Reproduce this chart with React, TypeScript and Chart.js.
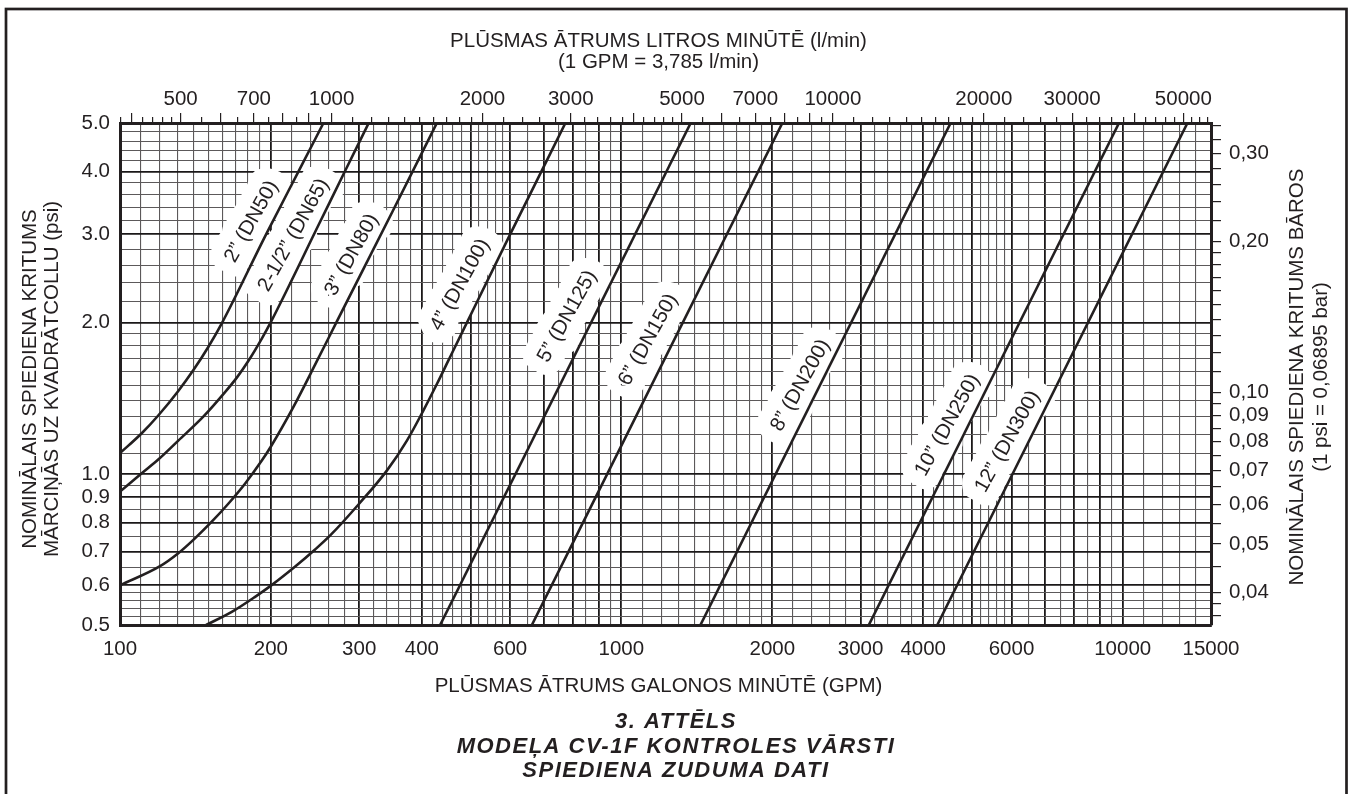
import React, { useEffect, useRef } from 'react';
import { Chart, registerables } from 'chart.js';

Chart.register(...registerables);

const FONT = '"Liberation Sans", Arial, Helvetica, sans-serif';
const INK = '#231f20';

// ---- axis ranges & conversions ----
const FLOW_MIN = 100;
const FLOW_MAX = 15000;
const PSI_MIN = 0.5;
const PSI_MAX = 5.0;
const GPM_TO_LPM = 3.785;
const PSI_TO_BAR = 0.06895;

// ---- grid / tick definitions: [from, to, step] ----
const GPM_GRID_SEGS: [number, number, number][] = [
  [100, 200, 10], [200, 600, 20], [600, 1000, 50], [1000, 2000, 100],
  [2000, 6000, 200], [6000, 10000, 500], [10000, 15000, 1000],
];
const PSI_GRID_SEGS: [number, number, number][] = [
  [0.5, 0.6, 0.02], [0.6, 1.0, 0.05], [1.0, 2.0, 0.1], [2.0, 5.0, 0.2],
];
const LPM_TICK_SEGS: [number, number, number][] = [
  [380, 500, 20], [500, 1000, 50], [1000, 2000, 100], [2000, 5000, 200],
  [5000, 10000, 500], [10000, 20000, 1000], [20000, 56000, 2000],
];
const BAR_TICK_SEGS: [number, number, number][] = [
  [0.036, 0.04, 0.002], [0.04, 0.1, 0.005], [0.1, 0.2, 0.01], [0.2, 0.34, 0.02],
];

// ---- tick labels ----
const GPM_LABELS = [100, 200, 300, 400, 600, 1000, 2000, 3000, 4000, 6000, 10000, 15000];
const PSI_LABELS = [0.5, 0.6, 0.7, 0.8, 0.9, 1.0, 2.0, 3.0, 4.0, 5.0];
const LPM_LABELS = [500, 700, 1000, 2000, 3000, 5000, 7000, 10000, 20000, 30000, 50000];
const BAR_LABELS = [0.04, 0.05, 0.06, 0.07, 0.08, 0.09, 0.1, 0.2, 0.3];

// ---- series (flow in GPM, pressure drop in psi) ----
const SERIES_NAMES = [
  '2” (DN50)', '2-1/2” (DN65)', '3” (DN80)', '4” (DN100)', '5” (DN125)',
  '6” (DN150)', '8” (DN200)', '10” (DN250)', '12” (DN300)',
];
const FLOW_2 = [100, 110.5, 119.2, 130.7, 140.1, 150.1, 159.6, 195.6, 226.9, 254.6];
const PSI_2 = [1.1, 1.205, 1.307, 1.463, 1.61, 1.792, 1.995, 3.0, 4.0, 5.0];
const FLOW_25 = [100, 110.5, 119.2, 130.7, 146.6, 162, 171, 180.4, 191.8, 200, 250, 280, 313.4];
const PSI_25 = [0.922, 1.003, 1.068, 1.165, 1.3, 1.455, 1.555, 1.68, 1.86, 2.008, 3.16, 3.98, 5.0];
const FLOW_3 = [100, 120.2, 130.7, 141.1, 152.4, 164.6, 177.7, 191.8, 200, 221.8, 245, 270.9, 350, 428.6];
const PSI_3 = [0.6, 0.655, 0.695, 0.744, 0.803, 0.873, 0.957, 1.063, 1.134, 1.36, 1.65, 2.015, 3.34, 5.0];
const FLOW_4 = [148.5, 167.1, 186, 200, 223.6, 245, 262.6, 300.8, 340.6, 373.5, 403.2, 428.6, 452.2, 480.8, 600, 773.5];
const PSI_4 = [0.5, 0.531, 0.569, 0.599, 0.654, 0.707, 0.754, 0.875, 1.015, 1.165, 1.34, 1.51, 1.685, 1.91, 3.0, 5.0];
const FLOW_5 = [435, 1375];
const FLOW_6 = [663, 2095];
const FLOW_8 = [1438, 4537];
const FLOW_10 = [3116, 9832];
const FLOW_12 = [4267, 13463];
const PSI_ENDS = [0.5, 5.0];

// ---- label anchors (flow, psi) beside each curve ----
const LABEL_FLOW = [183, 222, 290, 477, 780, 1132, 2277, 4474, 5896];
const LABEL_PSI = [3.18, 2.99, 2.73, 2.38, 2.06, 1.85, 1.5, 1.25, 1.16];

const SERIES_FLOWS = [FLOW_2, FLOW_25, FLOW_3, FLOW_4, FLOW_5, FLOW_6, FLOW_8, FLOW_10, FLOW_12];
const SERIES_PSIS = [PSI_2, PSI_25, PSI_3, PSI_4, PSI_ENDS, PSI_ENDS, PSI_ENDS, PSI_ENDS, PSI_ENDS];

function expand(segs: [number, number, number][]): number[] {
  const out: number[] = [];
  segs.forEach(([a, b, s], k) => {
    const n = Math.round((b - a) / s);
    for (let i = k === 0 ? 0 : 1; i <= n; i++) out.push(+(a + i * s).toFixed(6));
  });
  return out;
}
const inList = (list: number[], v: number) => list.some((x) => Math.abs(x - v) <= Math.abs(x) * 1e-6);
const isWhole = (v: number) => {
  const p = Math.pow(10, Math.floor(Math.log10(v) + 1e-9));
  const r = v / p;
  return Math.abs(r - Math.round(r)) < 1e-6;
};

const GPM_GRID = expand(GPM_GRID_SEGS);
const PSI_GRID = expand(PSI_GRID_SEGS);
const LPM_TICKS = expand(LPM_TICK_SEGS);
const BAR_TICKS = expand(BAR_TICK_SEGS);

const tickFont = { family: FONT, size: 20.5 };
const gridColor = (c: any) => (c.tick && isWhole(c.tick.value) ? '#1b1819' : '#5c595a');
const gridWidth = (c: any) => (c.tick && isWhole(c.tick.value) ? 1.8 : 1.1);

const decor = {
  id: 'decor',
  beforeDatasetsDraw(chart: any) {
    const { ctx } = chart;
    const xs = chart.scales.x;
    const ys = chart.scales.y;
    const angle = (-61 * Math.PI) / 180;
    ctx.save();
    ctx.font = `20.5px ${FONT}`;
    ctx.textAlign = 'center';
    ctx.textBaseline = 'middle';
    ctx.lineJoin = 'round';
    const pos = SERIES_NAMES.map((_, i) => [xs.getPixelForValue(LABEL_FLOW[i]), ys.getPixelForValue(LABEL_PSI[i])]);
    SERIES_NAMES.forEach((name, i) => {
      ctx.save();
      ctx.translate(pos[i][0], pos[i][1]);
      ctx.rotate(angle);
      ctx.strokeStyle = '#ffffff';
      ctx.lineWidth = 27;
      ctx.strokeText(name, 0, 0);
      ctx.restore();
    });
    SERIES_NAMES.forEach((name, i) => {
      ctx.save();
      ctx.translate(pos[i][0], pos[i][1]);
      ctx.rotate(angle);
      ctx.fillStyle = INK;
      ctx.fillText(name, 0, 0);
      ctx.restore();
    });
    ctx.restore();
  },
  afterDraw(chart: any) {
    const { ctx, chartArea } = chart;
    const cx = (chartArea.left + chartArea.right) / 2 - 7;
    ctx.save();
    ctx.fillStyle = INK;
    ctx.textAlign = 'center';
    ctx.textBaseline = 'alphabetic';
    ctx.font = `20.5px ${FONT}`;
    ctx.fillText('PLŪSMAS ĀTRUMS LITROS MINŪTĒ (l/min)', cx, 46.5);
    ctx.fillText('(1 GPM = 3,785 l/min)', cx, 68);
    ctx.fillText('PLŪSMAS ĀTRUMS GALONOS MINŪTĒ (GPM)', cx, 691.5);

    ctx.textBaseline = 'middle';
    const vertical = (text: string, x: number, y: number) => {
      ctx.save();
      ctx.translate(x, y);
      ctx.rotate(-Math.PI / 2);
      ctx.fillText(text, 0, 0);
      ctx.restore();
    };
    vertical('NOMINĀLAIS SPIEDIENA KRITUMS', 30, 379);
    vertical('MĀRCIŅĀS UZ KVADRĀTCOLLU (psi)', 52, 379);
    vertical('NOMINĀLAIS SPIEDIENA KRITUMS BĀROS', 1297, 377);
    vertical('(1 psi = 0,06895 bar)', 1321, 377);

    ctx.textBaseline = 'alphabetic';
    ctx.font = `italic bold 22px ${FONT}`;
    (ctx as any).letterSpacing = '1.5px';
    ctx.fillText('3. ATTĒLS', 676, 728);
    ctx.fillText('MODEĻA CV-1F KONTROLES VĀRSTI', 676, 752.5);
    ctx.fillText('SPIEDIENA ZUDUMA DATI', 676, 777);
    (ctx as any).letterSpacing = '0px';

    ctx.strokeStyle = INK;
    ctx.lineWidth = 2.7;
    ctx.strokeRect(6, 9, 1340.5, 820);
    ctx.restore();
  },
};

export default function App() {
  const ref = useRef<HTMLCanvasElement>(null);
  useEffect(() => {
    document.body.style.margin = '0';
    const datasets = SERIES_NAMES.map((name, i) => ({
      label: name,
      data: SERIES_FLOWS[i].map((f, j) => ({ x: f, y: SERIES_PSIS[i][j] })),
      borderColor: INK,
      borderWidth: 2.6,
      pointRadius: 0,
      fill: false,
      cubicInterpolationMode: 'monotone' as const,
      xAxisID: 'x',
      yAxisID: 'y',
    }));
    const chart = new Chart(ref.current as HTMLCanvasElement, {
      type: 'line',
      data: { datasets },
      plugins: [decor],
      options: {
        responsive: false,
        maintainAspectRatio: false,
        animation: false,
        devicePixelRatio: 1,
        layout: { padding: 0 },
        plugins: { legend: { display: false }, tooltip: { enabled: false }, title: { display: false } },
        scales: {
          x: {
            type: 'logarithmic',
            position: 'bottom',
            min: FLOW_MIN,
            max: FLOW_MAX,
            afterBuildTicks: (s: any) => { s.ticks = GPM_GRID.map((v) => ({ value: v })); },
            afterFit: (s: any) => { s.height = 169; },
            grid: { drawTicks: false, color: gridColor, lineWidth: gridWidth },
            border: { display: true, color: INK, width: 3 },
            ticks: {
              autoSkip: false, maxRotation: 0, minRotation: 0, padding: 12,
              color: INK, font: tickFont,
              callback: (v: any) => (inList(GPM_LABELS, Number(v)) ? String(Number(v)) : ''),
            },
          },
          x2: {
            type: 'logarithmic',
            position: 'top',
            min: FLOW_MIN * GPM_TO_LPM,
            max: FLOW_MAX * GPM_TO_LPM,
            afterBuildTicks: (s: any) => { s.ticks = LPM_TICKS.map((v) => ({ value: v })); },
            afterFit: (s: any) => { s.height = 123; },
            grid: {
              drawOnChartArea: false, drawTicks: true, tickLength: 10, color: INK, tickColor: INK,
              tickWidth: 1.2, lineWidth: 1.2,
              tickBorderDash: (c: any) => (c.tick && isWhole(c.tick.value) ? [] : [0, 4, 20]),
            },
            border: { display: true, color: INK, width: 3 },
            ticks: {
              autoSkip: false, maxRotation: 0, minRotation: 0, padding: 1,
              color: INK, font: tickFont,
              callback: (v: any) => (inList(LPM_LABELS, Number(v)) ? String(Number(v)) : ''),
            },
          },
          y: {
            type: 'logarithmic',
            position: 'left',
            min: PSI_MIN,
            max: PSI_MAX,
            afterBuildTicks: (s: any) => { s.ticks = PSI_GRID.map((v) => ({ value: v })); },
            afterFit: (s: any) => { s.width = 120; },
            grid: { drawTicks: false, color: gridColor, lineWidth: gridWidth },
            border: { display: true, color: INK, width: 3 },
            ticks: {
              autoSkip: false, padding: 10, color: INK, font: tickFont,
              callback: (v: any) => (inList(PSI_LABELS, Number(v)) ? Number(v).toFixed(1) : ''),
            },
          },
          y2: {
            type: 'logarithmic',
            position: 'right',
            min: PSI_MIN * PSI_TO_BAR,
            max: PSI_MAX * PSI_TO_BAR,
            afterBuildTicks: (s: any) => { s.ticks = BAR_TICKS.map((v) => ({ value: v })); },
            afterFit: (s: any) => { s.width = 137; },
            grid: {
              drawOnChartArea: false, drawTicks: true, tickLength: 10, color: INK, tickColor: INK,
              tickWidth: 1.2, lineWidth: 1.2,
            },
            border: { display: true, color: INK, width: 3 },
            ticks: {
              autoSkip: false, padding: 8, color: INK, font: tickFont,
              callback: (v: any) => (inList(BAR_LABELS, Number(v)) ? Number(v).toFixed(2).replace('.', ',') : ''),
            },
          },
        },
      } as any,
    });
    return () => chart.destroy();
  }, []);
  return (
    <div style={{ position: 'absolute', left: 0, top: 0, width: 1348, height: 794 }}>
      <canvas ref={ref} width={1348} height={794} style={{ display: 'block' }} />
    </div>
  );
}
